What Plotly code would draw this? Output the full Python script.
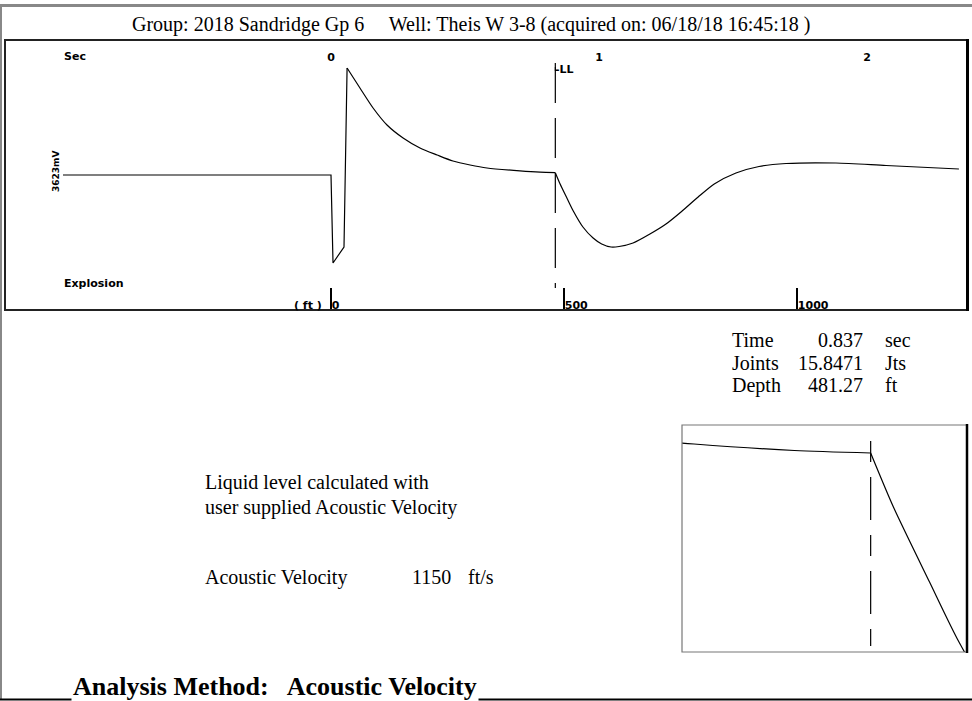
import plotly.graph_objects as go

# ---------------- data ----------------
TITLE = "Group: 2018 Sandridge Gp 6     Well: Theis W 3-8 (acquired on: 06/18/18 16:45:18 )"
time_s = [-1.000, 0.000, 0.0075, 0.0485, 0.060, 0.108, 0.157, 0.209, 0.269, 0.332,
          0.396, 0.455, 0.519, 0.582, 0.705, 0.780, 0.837, 0.854, 0.881, 0.903,
          0.940, 0.978, 1.010, 1.045, 1.075, 1.127, 1.190, 1.250, 1.310, 1.370,
          1.430, 1.511, 1.597, 1.698, 1.884, 2.071, 2.343]
signal = [0, 0, -88, -72, 107, 87, 67, 50, 37, 27,
          20, 14, 10, 7, 4.1, 2.8, 2.3, -8.5, -23.5, -35.5,
          -52, -63, -69, -72, -71.5, -68, -59, -49, -36, -22,
          -9, 2, 8.5, 11.5, 12, 9.5, 6]
time_ticks = [0, 1, 2]
time_labels = ["0", "1", "2"]
depth_ticks = [0, 500, 1000]
depth_labels = ["0", "500", "1000"]
LL_TIME = 0.837
VELOCITY = 1150
info_labels = ["Time", "Joints", "Depth"]
info_values = ["0.837", "15.8471", "481.27"]
info_units = ["sec", "Jts", "ft"]
AMP_LABEL = "3623mV"

# ---------------- geometry helpers ----------------
W, H = 972, 701
def px(x):
    return x / W
def py(y):
    return 1 - y / H

time_range = [-1.2164, 2.3731]
depth_range = [r * VELOCITY / 2 for r in time_range]
inset_xrange = [0.696, 0.909]
inset_yrange = [-37.5, 7.9]

bold_sans = dict(family="DejaVu Sans", size=11, color="black", weight="bold")
serif = dict(family="Liberation Serif", size=20, color="black")

# split the trace at the explosion peak and at the liquid level kink
i_peak = signal.index(max(signal))
i_ll = time_s.index(LL_TIME)
segments = [(0, i_peak + 1, "linear"), (i_peak, i_ll + 1, "spline"), (i_ll, len(time_s), "spline")]

fig = go.Figure()
for ax, ay in (("x", "y"), ("x3", "y3")):
    for a, b, shape in segments:
        fig.add_trace(go.Scatter(x=time_s[a:b], y=signal[a:b], mode="lines",
                                 line=dict(color="black", width=1.2, shape=shape, smoothing=0.7),
                                 xaxis=ax, yaxis=ay, hoverinfo="skip", showlegend=False))

fig.update_layout(
    width=W, height=H, margin=dict(l=0, r=0, t=0, b=0),
    paper_bgcolor="white", plot_bgcolor="white", showlegend=False,
    xaxis=dict(domain=[px(5), px(967)], range=time_range, side="top", anchor="y",
               tickvals=time_ticks, ticktext=time_labels, ticks="",
               ticklabelposition="inside", ticklabelstandoff=10,
               tickfont=bold_sans, showgrid=False, zeroline=False, showline=False),
    xaxis2=dict(range=depth_range, overlaying="x", side="bottom", anchor="y",
                tickvals=depth_ticks, ticktext=depth_labels, ticks="inside",
                ticklen=22, tickwidth=1.5, tickcolor="black",
                ticklabelposition="inside right", ticklabelstandoff=-7,
                tickfont=bold_sans, showgrid=False, zeroline=False, showline=False),
    yaxis=dict(domain=[py(310), py(40)], range=[-135, 135], visible=False),
    xaxis3=dict(domain=[px(682), px(967)], range=inset_xrange, anchor="y3",
                visible=False),
    yaxis3=dict(domain=[py(652), py(425)], range=inset_yrange, anchor="x3",
                visible=False),
)
# invisible trace to activate the depth axis
fig.add_trace(go.Scatter(x=[depth_range[0]], y=[0], xaxis="x2", yaxis="y",
                         mode="markers", marker=dict(opacity=0),
                         hoverinfo="skip", showlegend=False))

shapes = []
# outer frame
shapes.append(dict(type="line", xref="paper", yref="paper", x0=0, x1=1,
                   y0=py(5.5), y1=py(5.5), line=dict(color="#888888", width=3)))
shapes.append(dict(type="line", xref="paper", yref="paper", x0=px(1), x1=px(1),
                   y0=py(5), y1=py(700), line=dict(color="#888888", width=2)))
shapes.append(dict(type="line", xref="paper", yref="paper", x0=0, x1=1,
                   y0=py(699.5), y1=py(699.5), line=dict(color="black", width=2)))
# main box
shapes.append(dict(type="rect", xref="paper", yref="paper", x0=px(5), x1=px(967),
                   y0=py(310), y1=py(40), line=dict(color="#222222", width=2)))
shapes.append(dict(type="line", xref="paper", yref="paper", x0=px(967.5), x1=px(967.5),
                   y0=py(311), y1=py(39), line=dict(color="black", width=3)))
# inset box
shapes.append(dict(type="rect", xref="paper", yref="paper", x0=px(682), x1=px(967),
                   y0=py(652), y1=py(425), line=dict(color="#777777", width=1.2)))
shapes.append(dict(type="line", xref="paper", yref="paper", x0=px(967), x1=px(967),
                   y0=py(653), y1=py(424), line=dict(color="black", width=2.5)))
# liquid level dashed markers
shapes.append(dict(type="line", xref="x", yref="y", x0=LL_TIME, x1=LL_TIME,
                   y0=112, y1=-113, line=dict(color="black", width=1.2, dash="40px,15px")))
shapes.append(dict(type="line", xref="x", yref="y", x0=LL_TIME, x1=LL_TIME,
                   y0=108, y1=104, line=dict(color="black", width=1)))
shapes.append(dict(type="line", xref="x3", yref="y3", x0=LL_TIME, x1=LL_TIME,
                   y0=4.7, y1=-36.3, line=dict(color="black", width=1.2, dash="21px,15px,43px,15px")))
fig.update_layout(shapes=shapes)

ann = []
def text(x, y, s, font, xanchor="left", yanchor="middle", **kw):
    ann.append(dict(x=px(x), y=py(y), xref="paper", yref="paper", text=s,
                    showarrow=False, font=font, xanchor=xanchor, yanchor=yanchor, **kw))

text(471, 24, TITLE, dict(family="Liberation Serif", size=20, color="black"), xanchor="center")
text(62, 57, "Sec", bold_sans)
text(62, 283, "Explosion", bold_sans)
text(324, 305, "( ft )", bold_sans, xanchor="right")
ann.append(dict(x=LL_TIME, y=106, xref="x", yref="y", text="-LL", showarrow=False,
                font=bold_sans, xanchor="left", yanchor="middle", xshift=-2))
text(56, 172, AMP_LABEL, dict(family="DejaVu Sans", size=9, color="black", weight="bold"),
     xanchor="center", textangle=-90)

for i, (lab, val, unit) in enumerate(zip(info_labels, info_values, info_units)):
    yy = 340 + i * 22.5
    text(730, yy, lab, serif)
    text(865, yy, val, serif, xanchor="right")
    text(883, yy, unit, serif)

text(203, 482, "Liquid level calculated with", serif)
text(203, 507, "user supplied Acoustic Velocity", serif)
text(203, 577, "Acoustic Velocity", serif)
text(453, 577, str(VELOCITY), serif, xanchor="right")
text(466, 577, "ft/s", serif)
text(71, 686, "Analysis Method:   Acoustic Velocity",
     dict(family="Liberation Serif", size=26, color="black", weight="bold"),
     xanchor="left", bgcolor="white", borderpad=1)
fig.update_layout(annotations=ann)

fig.write_html("out.html", config={"displayModeBar": False},
               post_script="document.body.style.margin='0px';")
